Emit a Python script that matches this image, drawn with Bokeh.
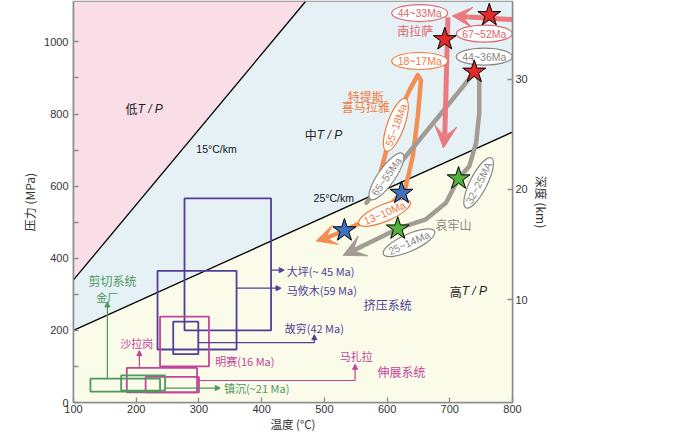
import numpy as np
from bokeh.plotting import figure
from bokeh.models import Range1d, LinearAxis, FixedTicker, Arrow, VeeHead, NormalHead, ColumnDataSource
from bokeh.core.properties import value
from bokeh.embed import file_html
from bokeh.resources import INLINE

# ---------------- data ----------------
x_ticks = [100, 200, 300, 400, 500, 600, 700, 800]
y_ticks = [0, 100, 200, 300, 400, 500, 600, 700, 800, 900, 1000]
y_labels = {0: "0", 200: "200", 400: "400", 600: "600", 800: "800", 1000: "1000"}
depth_ticks = [10, 20, 30]

T_range = (100, 800)
P_range = (0, 1112)
depth_range = (0.69, 37.03)

# geotherms (T, P)
geo15_T = [100, 470]
geo15_P = [340, 1112]
geo25_T = [100, 800]
geo25_P = [200, 750]

# boxes
box_names = ["大坪", "马攸木", "故穷", "明赛", "沙拉岗", "马扎拉", "金厂", "镇沉"]
box_system = ["comp", "comp", "comp", "ext", "ext", "ext", "shear", "shear"]
box_T0 = [277, 234, 259, 238, 185, 215, 127, 176]
box_T1 = [415, 360, 299, 316, 297, 300, 238, 246]
box_P0 = [200, 147, 134, 100, 28, 28, 30, 33]
box_P1 = [566, 365, 224, 238, 96, 71, 66, 75]

# connector lines (box -> label) : list of T and P vertices, last segment ends in arrow
conn_T = [[415, 436], [360, 431], [299, 484, 484], [205, 205], [300, 549, 549], [154, 154], [246, 334]]
conn_P = [[367, 367], [317, 317], [166, 166, 188], [96, 144], [61, 61, 106], [66, 279], [40, 40]]
conn_sys = ["comp", "comp", "comp", "ext", "ext", "shear", "shear"]

# P-T paths
tethys_T = [590, 609, 636, 649, 654, 649, 641, 630, 623, 596, 560, 532, 507]
tethys_P = [641, 765, 867, 908, 894, 793, 683, 600, 581, 530, 500, 477, 459]
tethys_tip = (487, 448)

ailao_T = [567, 630, 678, 721, 739, 747, 747, 742, 731, 714, 694, 662, 617, 588, 560]
ailao_P = [554, 683, 784, 876, 916, 894, 802, 720, 655, 621, 554, 508, 482, 457, 433]
ailao_tip = (530, 408)

lhasa_h_T = [800, 730]
lhasa_h_P = [1062, 1069]
lhasa_h_tip = (704, 1072)
lhasa_v_T = [697, 692]
lhasa_v_P = [1068, 740]
lhasa_v_tip = (690, 706)

# stars
star_T = [763, 692, 739, 714, 617, 623, 532]
star_P = [1074, 1007, 917, 621, 482, 581, 477]
star_kind = ["red", "red", "red", "green", "green", "blue", "blue"]

# age ellipses
age_text = ["44~33Ma", "67~52Ma", "44~36Ma", "18~17Ma", "55~18Ma", "65~55Ma", "13~10Ma", "32~25MA", "25~14Ma"]
age_T = [652, 755, 755, 652, 614, 599, 596, 746, 635]
age_P = [1080, 1023, 959, 947, 770, 627, 526, 609, 443]
age_angle_deg = [0, 0, 0, 0, 70, 55, 23, 63, 24]
age_kind = ["pink", "pink", "gray", "orange", "orange", "gray", "orange", "gray", "gray"]

# ---------------- styles ----------------
COL = {
    "comp": "#4f3f98", "ext": "#c2449b", "shear": "#4a9a5c",
    "pink": "#e87a80", "orange": "#f28f54", "gray": "#a39c95",
    "red": "#e22a2a", "green": "#52b03c", "blue": "#3f72c2",
}
TXT = {"pink": "#e0666c", "orange": "#f07c3c", "gray": "#8c8680"}
CJK = value("Noto Sans CJK SC")
LAT = value("Liberation Sans")

p = figure(width=690, height=434, x_range=Range1d(*T_range), y_range=Range1d(*P_range),
           output_backend="svg", toolbar_location=None,
           min_border_left=73, min_border_right=178, min_border_top=1, min_border_bottom=10)
p.xgrid.visible = False
p.ygrid.visible = False
p.outline_line_color = "#8c8c8c"
p.outline_line_width = 1.5
p.background_fill_color = "white"

# regions
pink_x = [geo15_T[0], geo15_T[1], T_range[0]]
pink_y = [geo15_P[0], geo15_P[1], P_range[1]]
p.patch(pink_x, pink_y, fill_color="#f9dde7", line_color=None)
blue_x = [geo25_T[0], geo25_T[1], T_range[1], geo15_T[1], geo15_T[0]]
blue_y = [geo25_P[0], geo25_P[1], P_range[1], geo15_P[1], geo15_P[0]]
p.patch(blue_x, blue_y, fill_color="#e6f1f6", line_color=None)
yel_x = [T_range[0], T_range[1], geo25_T[1], geo25_T[0]]
yel_y = [P_range[0], P_range[0], geo25_P[1], geo25_P[0]]
p.patch(yel_x, yel_y, fill_color="#fbfbea", line_color=None)
p.line(geo15_T, geo15_P, line_color="black", line_width=1.3)
p.line(geo25_T, geo25_P, line_color="black", line_width=1.3)

# boxes
for i in range(len(box_names)):
    p.quad(left=box_T0[i], right=box_T1[i], bottom=box_P0[i], top=box_P1[i],
           fill_color=None, line_color=COL[box_system[i]], line_width=1.8)

# connectors
for xs, ys, s in zip(conn_T, conn_P, conn_sys):
    p.line(xs[:-1], ys[:-1], line_color=COL[s], line_width=1.2)
    p.add_layout(Arrow(x_start=xs[-2], y_start=ys[-2], x_end=xs[-1], y_end=ys[-1],
                       line_color=COL[s], line_width=1.2,
                       end=NormalHead(size=5, fill_color=COL[s], line_color=COL[s])))

# paths
p.line(tethys_T, tethys_P, line_color=COL["orange"], line_width=4.5, line_join="round", line_cap="round")
p.add_layout(Arrow(x_start=tethys_T[-1], y_start=tethys_P[-1], x_end=tethys_tip[0], y_end=tethys_tip[1],
                   line_color=COL["orange"], line_width=4.5,
                   end=VeeHead(size=20, fill_color=COL["orange"], line_color=COL["orange"])))
p.line(ailao_T, ailao_P, line_color=COL["gray"], line_width=4.5, line_join="round", line_cap="round")
p.add_layout(Arrow(x_start=ailao_T[-1], y_start=ailao_P[-1], x_end=ailao_tip[0], y_end=ailao_tip[1],
                   line_color=COL["gray"], line_width=4.5,
                   end=VeeHead(size=22, fill_color=COL["gray"], line_color=COL["gray"])))
p.line(lhasa_h_T, lhasa_h_P, line_color=COL["pink"], line_width=5)
p.add_layout(Arrow(x_start=lhasa_h_T[-1], y_start=lhasa_h_P[-1], x_end=lhasa_h_tip[0], y_end=lhasa_h_tip[1],
                   line_color=COL["pink"], line_width=5,
                   end=VeeHead(size=20, fill_color=COL["pink"], line_color=COL["pink"])))
p.line(lhasa_v_T, lhasa_v_P, line_color=COL["pink"], line_width=5)
p.add_layout(Arrow(x_start=lhasa_v_T[-1], y_start=lhasa_v_P[-1], x_end=lhasa_v_tip[0], y_end=lhasa_v_tip[1],
                   line_color=COL["pink"], line_width=5,
                   end=VeeHead(size=22, fill_color=COL["pink"], line_color=COL["pink"])))

# age ellipses
ang = [np.deg2rad(a) for a in age_angle_deg]
src = ColumnDataSource(dict(x=age_T, y=age_P, t=age_text, a=ang,
                            lc=[TXT[k] for k in age_kind]))
p.ellipse(x="x", y="y", width=56, height=17, angle="a", width_units="screen", height_units="screen",
          fill_color="white", line_color="lc", line_width=1.2, source=src)
p.text(x="x", y="y", text="t", angle="a", text_color="lc", text_font=LAT, text_font_size="10.5px",
       text_align="center", text_baseline="middle", source=src)

# stars
p.scatter(star_T, star_P, marker="star", size=24, fill_color=[COL[k] for k in star_kind],
          line_color="black", line_width=1)

# labels
def lab(x, y, t, color, size="11px", font=CJK, align="center", style="normal"):
    p.text(x=[x], y=[y], text=[t], text_color=color, text_font=font, text_font_size=size,
           text_align=align, text_baseline="middle", text_font_style=style)

for (x, y, ch) in [(202, 814, "低"), (488, 742, "中"), (719, 309, "高")]:
    lab(x, y, ch, "#222", "12px", CJK, "right")
    lab(x, y, " T / P", "#222", "12px", LAT, "left", "italic")
lab(328, 704, "15°C/km", "#111", "10.5px", LAT)
lab(515, 568, "25°C/km", "#111", "10.5px", LAT)

lab(440, 365, "大坪(~ 45 Ma)", COL["comp"], "11px", CJK, "left")
lab(440, 313, "马攸木(59 Ma)", COL["comp"], "11px", CJK, "left")
lab(484, 207, "故穷(42 Ma)", COL["comp"], "11px", CJK)
lab(601, 271, "挤压系统", COL["comp"], "12px")
lab(326, 115, "明赛(16 Ma)", COL["ext"], "11px", CJK, "left")
lab(201, 165, "沙拉岗", COL["ext"], "11px")
lab(551, 128, "马扎拉", COL["ext"], "11px")
lab(623, 86, "伸展系统", COL["ext"], "12px")
lab(162, 337, "剪切系统", COL["shear"], "12px")
lab(154, 293, "金厂", COL["shear"], "11px")
lab(340, 40, "镇沉(~21 Ma)", COL["shear"], "11px", CJK, "left")
lab(645, 1032, "南拉萨", TXT["pink"], "12px")
lab(566, 848, "特提斯", TXT["orange"], "12px")
lab(566, 820, "喜马拉雅", TXT["orange"], "12px")
lab(706, 494, "哀牢山", TXT["gray"], "12px")

# axes
axc = "#8c8c8c"
def style_axis(ax):
    ax.axis_line_color = axc
    ax.axis_line_width = 1.5
    ax.major_tick_line_color = axc
    ax.major_tick_line_width = 1.3
    ax.major_tick_in = 5
    ax.major_tick_out = 0
    ax.minor_tick_line_color = None
    ax.major_label_text_font = "Liberation Sans"
    ax.major_label_text_font_size = "11px"
    ax.major_label_text_color = "#333"
    ax.axis_label_text_font = "Noto Sans CJK SC"
    ax.axis_label_text_font_size = "12px"
    ax.axis_label_text_font_style = "normal"
    ax.axis_label_text_color = "#333"

p.xaxis.ticker = FixedTicker(ticks=x_ticks)
p.xaxis.axis_label = "温度 (°C)"
style_axis(p.xaxis[0])
p.xaxis.major_label_standoff = 2
p.xaxis.axis_label_standoff = 0
p.xaxis.axis_label_text_font_size = "11.5px"
p.yaxis.ticker = FixedTicker(ticks=y_ticks)
p.yaxis.major_label_overrides = {t: y_labels.get(t, "") for t in y_ticks}
p.yaxis.axis_label = "压力 (MPa)"
style_axis(p.yaxis[0])
p.yaxis.major_label_standoff = 5
p.yaxis.axis_label_standoff = 3

p.extra_y_ranges = {"depth": Range1d(*depth_range)}
rax = LinearAxis(y_range_name="depth", ticker=FixedTicker(ticks=depth_ticks), axis_label="深度 (km)")
style_axis(rax)
rax.major_label_standoff = 3
rax.axis_label_standoff = 2
p.add_layout(rax, "right")

open("out.html", "w").write(file_html(p, INLINE))
